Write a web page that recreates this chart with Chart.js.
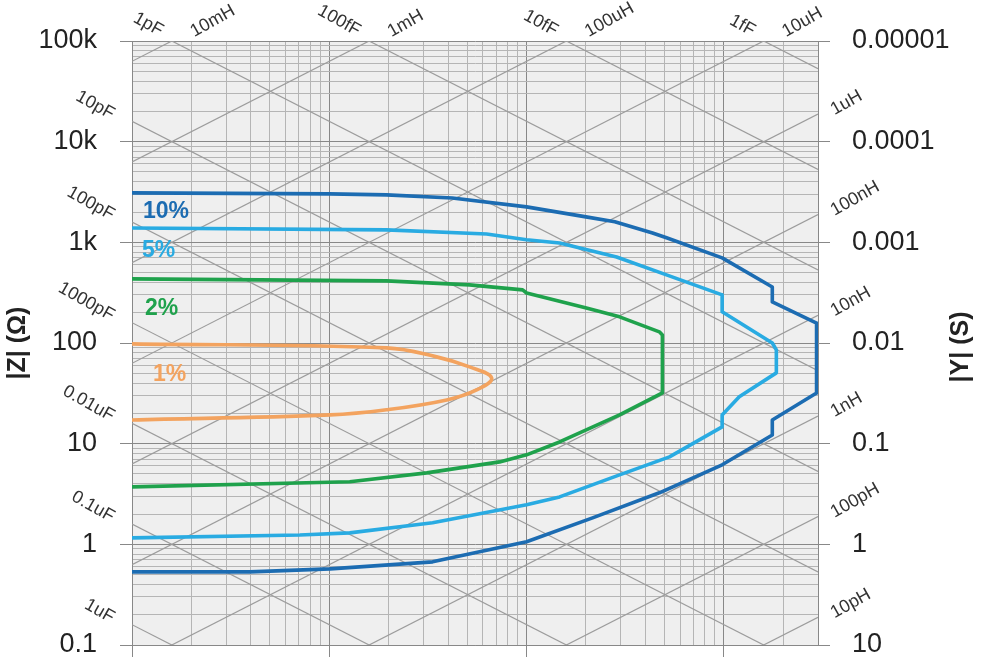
<!DOCTYPE html>
<html>
<head>
<meta charset="utf-8">
<script src="https://cdn.jsdelivr.net/npm/chart.js@4.4.1/dist/chart.umd.min.js"></script>
<style>
  html, body { margin: 0; padding: 0; background: #fff; }
  #wrap { width: 982px; height: 662px; }
</style>
</head>
<body>
<div id="wrap"><canvas id="chart" width="982" height="662"></canvas></div>
<script>
// Axis ranges (frequency in MHz, impedance in ohms)
const freqMin = 1, freqMax = 3000;
const zMin = 0.1, zMax = 100000;

// Tick labels
const zDecades = [0.1, 1, 10, 100, 1000, 10000, 100000];
const zTickLabels = ['0.1', '1', '10', '100', '1k', '10k', '100k'];
const yDecades = [0.00001, 0.0001, 0.001, 0.01, 0.1, 1, 10];
const yTickLabels = ['0.00001', '0.0001', '0.001', '0.01', '0.1', '1', '10'];

// Reference capacitor / inductor lines
const capValues = [1e-15, 1e-14, 1e-13, 1e-12, 1e-11, 1e-10, 1e-9, 1e-8, 1e-7, 1e-6];
const capLabels = ['1fF', '10fF', '100fF', '1pF', '10pF', '100pF', '1000pF', '0.01uF', '0.1uF', '1uF'];
const indValues = [1e-11, 1e-10, 1e-9, 1e-8, 1e-7, 1e-6, 1e-5, 1e-4, 1e-3, 1e-2];
const indLabels = ['10pH', '100pH', '1nH', '10nH', '100nH', '1uH', '10uH', '100uH', '1mH', '10mH'];

// Accuracy contours (freq MHz, |Z| ohm)
const pct10Freq = [1, 10, 19.5, 42, 100, 200, 280, 435, 512, 980, 1760, 1760, 2950, 2950, 1760, 1760, 980, 471, 216, 100, 33.4, 10.1, 3.96, 1];
const pct10Z = [3100, 3030, 2960, 2760, 2250, 1790, 1600, 1240, 1110, 700, 360, 256, 158, 31.9, 17.2, 12.2, 6.17, 3.25, 1.83, 1.06, 0.67, 0.57, 0.533, 0.533];

const pct5Freq = [1, 19.5, 62.7, 100, 147, 286, 512, 980, 980, 1760, 1845, 1845, 1197, 980, 980, 530, 296, 147, 100, 33.4, 12.7, 7.09, 1];
const pct5Z = [1390, 1330, 1210, 1060, 986, 716, 475, 301, 204, 100, 85.4, 50.5, 29.2, 19.3, 14.7, 7.39, 4.9, 2.96, 2.47, 1.64, 1.3, 1.24, 1.16];

const pct2Freq = [1, 19.5, 51.4, 95.5, 100, 201, 296, 471, 488, 488, 296, 147, 100, 73, 31.2, 12.7, 1];
const pct2Z = [434, 414, 378, 337, 314, 223, 182, 129, 120, 31.9, 19.3, 10.4, 7.74, 6.59, 5.13, 4.18, 3.72];

const pct1Freq = [1, 19.5, 35, 51.4, 66.5, 55.8, 39.4, 19.5, 10.1, 1];
const pct1Z = [98, 89.4, 72.8, 57.9, 45, 34.2, 27.2, 21.7, 19.3, 17.2];

const curveNames = ['10%', '5%', '2%', '1%'];
const curveColors = ['#1c6cb2', '#29abe2', '#1fa24c', '#f3a35f'];

const FONT = "'Liberation Sans', Arial, sans-serif";

const isDecade = v => Math.abs(Math.log10(v) - Math.round(Math.log10(v))) < 1e-6;

const logTicks = (min, max) => {
  const out = [];
  for (let e = Math.floor(Math.log10(min)); e <= Math.ceil(Math.log10(max)); e++) {
    for (let m = 1; m <= 9; m++) {
      const v = m * Math.pow(10, e);
      if (v >= min * 0.9999 && v <= max * 1.0001) out.push(v);
    }
  }
  return out;
};

const labelFor = (decades, labels) => v => {
  const i = decades.findIndex(d => Math.abs(d - v) / d < 1e-6);
  return i >= 0 ? labels[i] : '';
};

const toPoints = (fs, zs) => fs.map((f, i) => ({ x: f, y: zs[i] }));
const capZ = (c, f) => 1 / (2 * Math.PI * f * 1e6 * c);
const indZ = (l, f) => 2 * Math.PI * f * 1e6 * l;

const refLine = pts => ({
  data: pts,
  borderColor: '#9c9c9c',
  borderWidth: 1.2,
  pointRadius: 0,
  tension: 0,
  order: 10
});

const datasets = [];
capValues.forEach(c => datasets.push(refLine([freqMin, freqMax].map(f => ({ x: f, y: capZ(c, f) })))));
indValues.forEach(l => datasets.push(refLine([freqMin, freqMax].map(f => ({ x: f, y: indZ(l, f) })))));

[[pct10Freq, pct10Z], [pct5Freq, pct5Z], [pct2Freq, pct2Z], [pct1Freq, pct1Z]].forEach(([fs, zs], i) => {
  datasets.push({
    label: curveNames[i],
    data: toPoints(fs, zs),
    borderColor: curveColors[i],
    borderWidth: 3.6,
    pointRadius: 0,
    tension: i === 3 ? 0.4 : 0,
    borderJoinStyle: 'round',
    order: 1
  });
});

const gridColor = ctx => (ctx.tick && isDecade(ctx.tick.value)) ? '#888' : '#b5b5b5';
const tickColor = ctx => (ctx.tick && isDecade(ctx.tick.value)) ? '#888' : 'rgba(0,0,0,0)';

// keep the plot area fixed: labels may overflow the canvas edges
const noPad = s => { s.paddingTop = 0; s.paddingBottom = 0; };

// background of the plot area, then labels drawn outside of it
const decorPlugin = {
  id: 'decor',
  beforeDraw(chart) {
    const { ctx, chartArea: a } = chart;
    ctx.save();
    ctx.fillStyle = '#efefef';
    ctx.fillRect(a.left, a.top, a.right - a.left, a.bottom - a.top);
    ctx.restore();
  },
  afterDraw(chart) {
    const { ctx, chartArea: a } = chart;
    const xs = chart.scales.x, ys = chart.scales.y;
    const dx = xs.getPixelForValue(10) - xs.getPixelForValue(1);
    const dy = ys.getPixelForValue(1) - ys.getPixelForValue(10);
    const angle = Math.atan2(dy, dx) + 0.04;

    ctx.save();
    ctx.fillStyle = '#333';
    ctx.font = '18px ' + FONT;
    ctx.textBaseline = 'middle';

    capValues.forEach((c, i) => {
      ctx.save();
      const zl = capZ(c, freqMin);
      if (zl <= zMax) {
        ctx.translate(a.left - 19, ys.getPixelForValue(zl) - 6);
      } else {
        const fTop = 1 / (2 * Math.PI * c * zMax) / 1e6;
        ctx.translate(xs.getPixelForValue(fTop) - 10, a.top - 9);
      }
      ctx.rotate(angle);
      ctx.textAlign = 'right';
      ctx.fillText(capLabels[i], 0, 0);
      ctx.restore();
    });

    indValues.forEach((l, i) => {
      ctx.save();
      const zr = indZ(l, freqMax);
      if (zr <= zMax) {
        ctx.translate(a.right + 14, ys.getPixelForValue(zr) - 3);
      } else {
        const fTop = zMax / (2 * Math.PI * l) / 1e6;
        ctx.translate(xs.getPixelForValue(fTop) + 20, a.top - 8);
      }
      ctx.rotate(-angle);
      ctx.textAlign = 'left';
      ctx.fillText(indLabels[i], 0, 0);
      ctx.restore();
    });

    // curve names
    ctx.font = 'bold 23px ' + FONT;
    ctx.textAlign = 'left';
    const namePos = [[11, 2000], [10, 820], [13, 218], [21, 48]];
    namePos.forEach(([off, z], i) => {
      ctx.fillStyle = curveColors[i];
      ctx.fillText(curveNames[i], a.left + off, ys.getPixelForValue(z));
    });

    // axis titles
    ctx.fillStyle = '#222';
    ctx.font = 'bold 25px ' + FONT;
    ctx.textAlign = 'center';
    ctx.save();
    ctx.translate(18, 343);
    ctx.rotate(-Math.PI / 2);
    ctx.fillText('|Z| (\u03A9)', 0, 0);
    ctx.restore();
    ctx.save();
    ctx.translate(961, 347);
    ctx.rotate(-Math.PI / 2);
    ctx.fillText('|Y| (S)', 0, 0);
    ctx.restore();

    ctx.restore();
  }
};

new Chart(document.getElementById('chart'), {
  type: 'line',
  data: { datasets },
  options: {
    responsive: false,
    animation: false,
    events: [],
    layout: { padding: { top: 41, left: 0, right: 0, bottom: 0 } },
    plugins: { legend: { display: false }, tooltip: { enabled: false } },
    scales: {
      x: {
        type: 'logarithmic',
        position: 'bottom',
        min: freqMin,
        max: freqMax,
        afterBuildTicks: s => { s.ticks = logTicks(freqMin, freqMax).map(v => ({ value: v })); },
        afterFit: s => { s.height = 17; s.paddingLeft = 0; s.paddingRight = 0; },
        ticks: { display: false },
        grid: { color: gridColor, tickColor: tickColor, tickLength: 12, lineWidth: 1 },
        border: { display: true, color: '#888' }
      },
      y: {
        type: 'logarithmic',
        position: 'left',
        min: zMin,
        max: zMax,
        afterBuildTicks: s => { s.ticks = logTicks(zMin, zMax).map(v => ({ value: v })); },
        afterFit: s => { s.width = 132; noPad(s); },
        ticks: {
          autoSkip: false,
          padding: 23,
          color: '#222',
          font: { family: FONT, size: 27 },
          callback: labelFor(zDecades, zTickLabels)
        },
        grid: { color: gridColor, tickColor: tickColor, tickLength: 12, lineWidth: 1 },
        border: { display: true, color: '#888' }
      },
      y2: {
        type: 'logarithmic',
        position: 'right',
        reverse: true,
        min: yDecades[0],
        max: yDecades[yDecades.length - 1],
        afterBuildTicks: s => { s.ticks = yDecades.map(v => ({ value: v })); },
        afterFit: s => { s.width = 164; noPad(s); },
        ticks: {
          autoSkip: false,
          padding: 22,
          color: '#222',
          font: { family: FONT, size: 27 },
          callback: labelFor(yDecades, yTickLabels)
        },
        grid: { drawOnChartArea: false, color: '#888', tickColor: '#888', tickLength: 12 },
        border: { display: true, color: '#888' }
      }
    }
  },
  plugins: [decorPlugin]
});
</script>
</body>
</html>
